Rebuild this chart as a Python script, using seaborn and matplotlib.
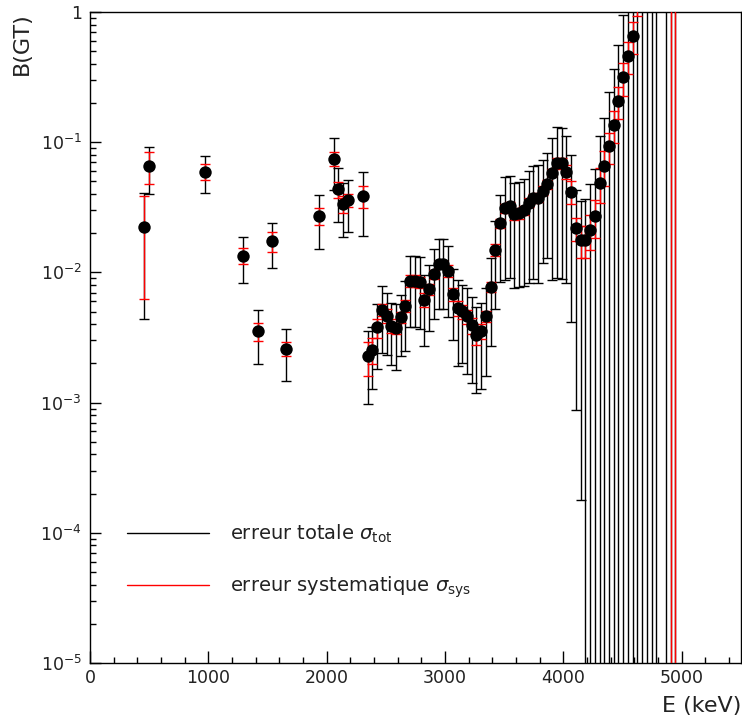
import numpy as np
import pandas as pd
import matplotlib
matplotlib.use("Agg")
import matplotlib.pyplot as plt
import seaborn as sns
from matplotlib.lines import Line2D
from matplotlib.ticker import MultipleLocator, FixedLocator, FixedFormatter, LogLocator, NullFormatter

# ---------------- data ----------------
# isolated low-energy points (keV), B(GT), absolute total and systematic errors
E_sparse = [454, 496, 975, 1296, 1418, 1538, 1657, 1938, 2060, 2099, 2139, 2178, 2305]
B_sparse = [0.0225, 0.0661, 0.0595, 0.01348, 0.00354, 0.01739, 0.00258, 0.0272,
            0.0748, 0.0436, 0.0338, 0.0361, 0.0389]
tot_sparse = [0.0181, 0.026, 0.0185, 0.0052, 0.00157, 0.0066, 0.00112, 0.0121,
              0.032, 0.0193, 0.015, 0.0155, 0.020]
sys_sparse = [0.0162, 0.0183, 0.0083, 0.0019, 0.00055, 0.0030, 0.00032, 0.0040,
              0.0090, 0.0063, 0.0050, 0.0042, 0.0075]

# dense region (40 keV bins)
E_dense = [2345, 2385, 2425, 2465, 2505, 2545, 2585, 2625, 2665, 2705,
           2745, 2785, 2825, 2865, 2905, 2945, 2985, 3025, 3065, 3105,
           3145, 3185, 3225, 3265, 3305, 3345, 3385, 3425, 3465, 3505,
           3545, 3585, 3625, 3665, 3705, 3745, 3785, 3825, 3865, 3905,
           3945, 3985, 4025, 4065, 4105, 4145, 4185, 4225, 4265, 4305,
           4345, 4385, 4425, 4465, 4505, 4545, 4585, 4625, 4665, 4705,
           4745, 4785, 4865, 4905, 4945]
B_dense = [0.00226, 0.00255, 0.00378, 0.00516, 0.00464, 0.00389, 0.00374, 0.00451, 0.00554, 0.00862,
           0.00862, 0.00837, 0.00616, 0.00744, 0.00970, 0.01158, 0.01158, 0.01029, 0.00682, 0.00532,
           0.00501, 0.00459, 0.00394, 0.00328, 0.00356, 0.00459, 0.00779, 0.01491, 0.0239, 0.0313,
           0.0321, 0.0281, 0.0285, 0.0300, 0.0344, 0.0372, 0.0376, 0.0425, 0.0476, 0.0584,
           0.0697, 0.0690, 0.0595, 0.0418, 0.0219, 0.0178, 0.0178, 0.0212, 0.0272, 0.0490,
           0.0658, 0.0932, 0.1358, 0.2075, 0.316, 0.460, 0.654, 1.3, 1.7, 2.2,
           2.8, 3.4, 4.0, 4.6, 5.2]
# relative errors (sigma / B)
rel_tot_dense = [0.57, 0.50, 0.52, 0.53, 0.50, 0.50, 0.52, 0.49, 0.55, 0.56,
                 0.56, 0.56, 0.56, 0.52, 0.55, 0.55, 0.55, 0.56, 0.56, 0.64,
                 0.60, 0.64, 0.64, 0.64, 0.64, 0.65, 0.65, 0.65, 0.65, 0.72,
                 0.72, 0.73, 0.73, 0.74, 0.76, 0.76, 0.78, 0.72, 0.73, 0.85,
                 0.87, 0.87, 0.86, 0.90, 0.96, 0.99, 1.05, 1.25, 1.28, 1.28,
                 1.34, 1.62, 1.69, 1.70, 2.0, 2.2, 2.4, 2.5, 2.5, 2.5,
                 2.5, 2.5, 2.5, 2.5, 2.5]
rel_sys_dense = [0.29, 0.23, 0.17, 0.11, 0.12, 0.12, 0.10, 0.10, 0.10, 0.10,
                 0.10, 0.10, 0.12, 0.10, 0.08, 0.06, 0.06, 0.10, 0.12, 0.13,
                 0.12, 0.12, 0.14, 0.15, 0.13, 0.10, 0.09, 0.10, 0.08, 0.08,
                 0.08, 0.10, 0.10, 0.08, 0.08, 0.08, 0.08, 0.08, 0.08, 0.06,
                 0.08, 0.10, 0.12, 0.20, 0.20, 0.28, 0.28, 0.30, 0.32, 0.30,
                 0.30, 0.27, 0.28, 0.28, 0.28, 0.28, 0.27, 0.28, 0.28, 0.28,
                 0.28, 0.28, 0.28, 1.5, 1.5]

x_ticks = [0, 1000, 2000, 3000, 4000, 5000]
y_ticks = [1e-5, 1e-4, 1e-3, 1e-2, 1e-1, 1]
y_ticklabels = [r"$10^{-5}$", r"$10^{-4}$", r"$10^{-3}$", r"$10^{-2}$", r"$10^{-1}$", "1"]
legend_labels = [r"erreur totale $\sigma_{\mathrm{tot}}$",
                 r"erreur systematique $\sigma_{\mathrm{sys}}$"]

# ---------------- assemble ----------------
E = np.array(E_sparse + E_dense, dtype=float)
B = np.array(B_sparse + B_dense, dtype=float)
tot = np.concatenate([tot_sparse, np.array(rel_tot_dense) * np.array(B_dense)])
sysm = np.concatenate([sys_sparse, np.array(rel_sys_dense) * np.array(B_dense)])

floor = 1e-8
lo_tot = np.where(B - tot > 0, tot, B - floor)
lo_sys = np.where(B - sysm > 0, sysm, B - floor)

# ---------------- plot ----------------
sns.set_style("ticks")
plt.rcParams["font.family"] = ["DejaVu Sans"]
plt.rcParams["mathtext.fontset"] = "dejavusans"

fig = plt.figure(figsize=(7.42, 7.21), dpi=100)
ax = fig.add_axes([90 / 742, 58 / 721, 651 / 742, 651 / 721])
ax.set_yscale("log")

ax.errorbar(E, B, yerr=[lo_tot, tot], fmt="none", ecolor="black",
            elinewidth=1.0, capsize=3.5, capthick=1.0, zorder=2)
ax.errorbar(E, B, yerr=[lo_sys, sysm], fmt="none", ecolor="red",
            elinewidth=1.0, capsize=3.5, capthick=1.0, zorder=3)

df = pd.DataFrame({"E": E, "B": B})
sns.scatterplot(data=df, x="E", y="B", ax=ax, color="black", s=80,
                linewidth=0, zorder=4, legend=False)

ax.set_xlim(0, 5500)
ax.set_ylim(1e-5, 1)

ax.xaxis.set_major_locator(FixedLocator(x_ticks))
ax.xaxis.set_minor_locator(MultipleLocator(200))
ax.yaxis.set_major_locator(FixedLocator(y_ticks))
ax.yaxis.set_major_formatter(FixedFormatter(y_ticklabels))
ax.yaxis.set_minor_locator(LogLocator(base=10, subs=np.arange(2, 10)))
ax.yaxis.set_minor_formatter(NullFormatter())

ax.tick_params(axis="both", which="both", direction="in", top=False, right=False,
               colors="black", labelcolor="#222222")
ax.tick_params(axis="both", which="major", labelsize=12.5, width=1.0)
ax.tick_params(axis="x", which="major", length=9, pad=4)
ax.tick_params(axis="x", which="minor", length=4.5, width=1.0)
ax.tick_params(axis="y", which="major", length=8, pad=6)
ax.tick_params(axis="y", which="minor", length=4, width=1.0)

for sp in ax.spines.values():
    sp.set_visible(True)
    sp.set_color("black")
    sp.set_linewidth(1.0)

ax.set_xlabel("E (keV)", fontsize=16, color="#222222", loc="right")
ax.xaxis.set_label_coords(1.0, -0.05)
ax.set_ylabel("B(GT)", fontsize=16, color="#222222", loc="top")
ax.yaxis.set_label_coords(-0.09, 1.0)

handles = [Line2D([], [], color="black", lw=1.0), Line2D([], [], color="red", lw=1.0)]
ax.legend(handles, legend_labels, loc="upper left", bbox_to_anchor=(0.057, 0.215),
          frameon=False, fontsize=14, handlelength=4.2, handletextpad=1.1,
          labelspacing=1.5, borderpad=0, borderaxespad=0, labelcolor="#222222")

fig.savefig("out.png", dpi=100)
